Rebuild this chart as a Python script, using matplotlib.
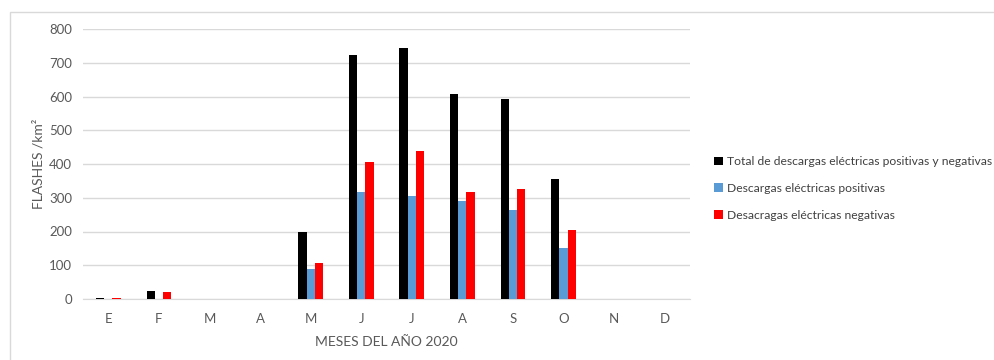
import numpy as np
import matplotlib.pyplot as plt
from matplotlib.patches import Rectangle

meses = ['E', 'F', 'M', 'A', 'M', 'J', 'J', 'A', 'S', 'O', 'N', 'D']
total = [4, 23, 0, 0, 198, 722, 745, 608, 593, 356, 0, 0]
positivas = [0, 0, 0, 0, 89, 316, 306, 289, 265, 152, 0, 0]
negativas = [4, 21, 0, 0, 108, 405, 438, 318, 327, 203, 0, 0]

series = [
    ('Total de descargas eléctricas positivas y negativas', total, '#000000'),
    ('Descargas eléctricas positivas', positivas, '#5b9bd5'),
    ('Desacragas eléctricas negativas', negativas, '#ff0000'),
]

plt.rcParams['font.family'] = ['Lato', 'DejaVu Sans']

fig = plt.figure(figsize=(9.95, 3.6), dpi=100)
# light chart border
fig.patches.append(Rectangle((10 / 995, -0.1), 1.2, (360 - 12) / 360 + 0.1,
                             transform=fig.transFigure, fill=False,
                             edgecolor='#d9d9d9', linewidth=1))
ax = fig.add_axes([83 / 995, 61 / 360, (690 - 83) / 995, 270 / 360])

x = np.arange(len(meses))
w = 0.163
for i, (name, vals, color) in enumerate(series):
    ax.bar(x + (i - 1) * w, vals, w, color=color, label=name, zorder=3)

ax.set_xlim(-0.5, len(meses) - 0.5)
ax.set_ylim(0, 800)
ax.set_yticks(range(0, 801, 100))
ax.set_xticks(x)
ax.set_xticklabels(meses)
ax.tick_params(length=0, colors='#595959', labelsize=9.5)
ax.tick_params(axis='y', pad=8)
ax.tick_params(axis='x', pad=10)
ax.grid(axis='y', color='#d9d9d9', linewidth=1, zorder=0)
for s in ['top', 'right', 'left']:
    ax.spines[s].set_visible(False)
ax.spines['bottom'].set_color('#d9d9d9')

ax.set_xlabel('MESES DEL AÑO 2020', color='#595959', fontsize=10, labelpad=8)
ax.set_ylabel('FLASHES /km²', color='#595959', fontsize=10, labelpad=3)

ax.legend(loc='center left', bbox_to_anchor=(1.022, 0.41), frameon=False,
          fontsize=8.7, labelcolor='#404040', handlelength=0.7, handleheight=0.7,
          handletextpad=0.35, labelspacing=1.3)

plt.savefig('out.png', dpi=100)
